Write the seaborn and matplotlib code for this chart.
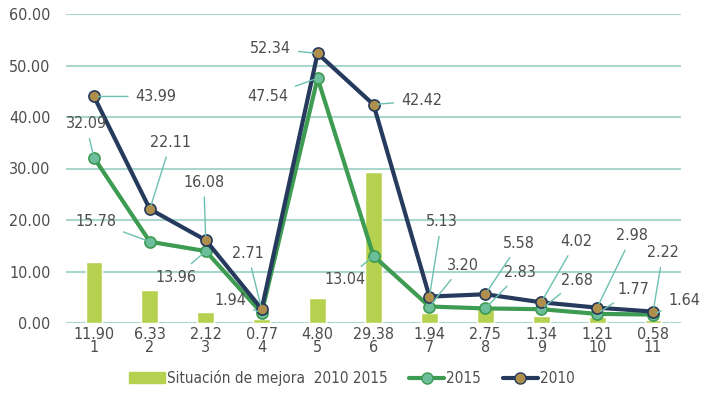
import matplotlib
matplotlib.use("Agg")
import matplotlib.pyplot as plt
import seaborn as sns
import numpy as np
import pandas as pd
from matplotlib.lines import Line2D
from matplotlib.patches import Patch

categories = ["1", "2", "3", "4", "5", "6", "7", "8", "9", "10", "11"]
mejora = [11.90, 6.33, 2.12, 0.77, 4.80, 29.38, 1.94, 2.75, 1.34, 1.21, 0.58]
v2015 = [32.09, 15.78, 13.96, 1.94, 47.54, 13.04, 3.20, 2.83, 2.68, 1.77, 1.64]
v2010 = [43.99, 22.11, 16.08, 2.71, 52.34, 42.42, 5.13, 5.58, 4.02, 2.98, 2.22]

# label offsets (pixels, x right / y down)
off2010 = [(62, 0), (21, -67), (-2, -58), (-14, -56), (-47, -5), (48, -4),
           (12, -75), (34, -51), (35, -61), (35, -72), (10, -59)]
off2015 = [(-8, -34), (-54, -20), (-30, 26), (-31, -13), (-50, 18), (-28, 24),
           (33, -41), (35, -36), (36, -29), (36, -24), (31, -14)]

sns.set_theme(style="white")
plt.rcParams['font.family'] = ['DejaVu Sans']
plt.rcParams['font.stretch'] = 'condensed'

TXT = "#4d4d4d"
GRID = "#a9d6cd"
BAR = "#b6d150"
G15 = "#3e9b52"
G15F = "#6dbf9b"
N10 = "#253a5c"
N10F = "#b08e4c"
LEAD = "#6cc0b0"
FS = 11

fig = plt.figure(figsize=(7.07, 3.93), dpi=100)
ax = fig.add_axes([66/707, 1-323/393, (681-66)/707, (323-14)/393])

pos = np.arange(len(categories))
df = pd.DataFrame({"pos": pos, "cat": categories, "mejora": mejora,
                   "v2015": v2015, "v2010": v2010})

sns.barplot(data=df, x="cat", y="mejora", color=BAR, width=0.3,
            saturation=1, ax=ax, zorder=2)
sns.lineplot(data=df, x="pos", y="v2015", color=G15, lw=3, marker="o",
             markersize=8, markerfacecolor=G15F, markeredgecolor=G15,
             markeredgewidth=1.2, ax=ax, zorder=3)
sns.lineplot(data=df, x="pos", y="v2010", color=N10, lw=3, marker="o",
             markersize=8, markerfacecolor=N10F, markeredgecolor=N10,
             markeredgewidth=1.2, ax=ax, zorder=4)

ax.set_xlim(-0.5, 10.5)
ax.set_ylim(0, 60)
ax.set_yticks(np.arange(0, 61, 10))
ax.set_yticklabels([f"{v:.2f}" for v in np.arange(0, 61, 10)], color=TXT, fontsize=FS + 0.5)
ax.set_xticks(pos)
ax.set_xticklabels([f"{m:.2f}\n{c}" for m, c in zip(mejora, categories)],
                   color=TXT, fontsize=FS + 0.5, linespacing=0.85)
ax.tick_params(axis="both", length=0)
ax.tick_params(axis="x", pad=3)
ax.tick_params(axis="y", pad=11)
ax.set_xlabel("")
ax.set_ylabel("")
ax.yaxis.grid(True, color=GRID, lw=1.5, zorder=0)
ax.set_axisbelow(True)
for s in ax.spines.values():
    s.set_visible(False)

k = 0.72
for vals, offs in ((v2010, off2010), (v2015, off2015)):
    for i, (v, (dx, dy)) in enumerate(zip(vals, offs)):
        ax.annotate(f"{v:.2f}", xy=(i, v), xytext=(dx * k, -dy * k),
                    textcoords="offset points", ha="center", va="center",
                    fontsize=FS + 0.5, color=TXT, zorder=6,
                    arrowprops=dict(arrowstyle="-", color=LEAD, lw=1,
                                    shrinkA=3, shrinkB=3))

handles = [Patch(color=BAR, label="Situación de mejora  2010 2015"),
           Line2D([], [], color=G15, lw=3, marker="o", markersize=8,
                  markerfacecolor=G15F, markeredgecolor=G15, label="2015"),
           Line2D([], [], color=N10, lw=3, marker="o", markersize=8,
                  markerfacecolor=N10F, markeredgecolor=N10, label="2010")]
leg = fig.legend(handles=handles, loc="center", bbox_to_anchor=(0.498, 0.038),
                 ncol=3, frameon=False, fontsize=FS, handlelength=2.3,
                 columnspacing=1.4, handletextpad=0.15)
for t in leg.get_texts():
    t.set_color(TXT)

fig.savefig("out.png", dpi=100)
